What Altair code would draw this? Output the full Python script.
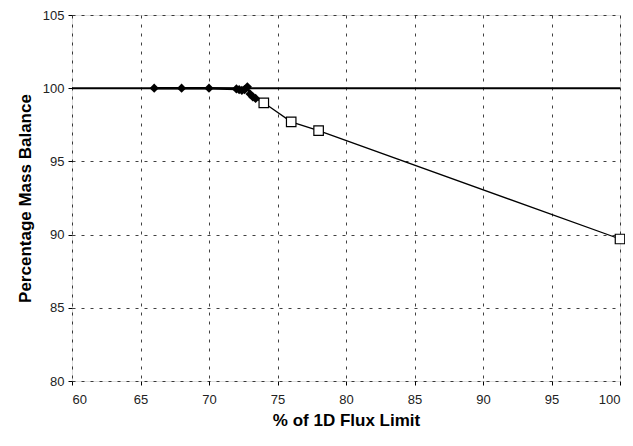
import altair as alt
import pandas as pd

# Filled-diamond series
dia_x = [66, 68, 70, 72.0, 72.2, 72.4, 72.6, 72.8, 73.0, 73.2, 73.4]
dia_y = [100.0, 100.0, 100.0, 99.95, 99.9, 99.85, 99.9, 100.1, 99.6, 99.4, 99.3]

# Open-square series
sq_x = [73.4, 74, 76, 78, 100]
sq_y = [99.3, 99.0, 97.7, 97.1, 89.7]
sq_marker = [False, True, True, True, True]

ref_y = [100]

x_ticks = [60, 65, 70, 75, 80, 85, 90, 95, 100]
y_ticks = [80, 85, 90, 95, 100, 105]

dia = pd.DataFrame({"x": dia_x, "y": dia_y})
sq = pd.DataFrame({"x": sq_x, "y": sq_y, "m": sq_marker})
ref = pd.DataFrame({"y": ref_y})

FONT = "Liberation Sans"

xs = alt.Scale(domain=[60, 100], nice=False, zero=False)
ys = alt.Scale(domain=[80, 105], nice=False, zero=False)

xaxis = alt.Axis(values=x_ticks, title="% of 1D Flux Limit", grid=True,
                 gridDash=[3, 6], gridColor="#000", gridOpacity=0.75, gridWidth=1,
                 domain=False, tickColor="#000", tickSize=4, labelPadding=8,
                 labelFont=FONT, labelFontSize=13, labelColor="#222",
                 titleFont=FONT, titleFontSize=17, titleFontWeight="bold",
                 titlePadding=6, titleColor="#000")
yaxis = alt.Axis(values=y_ticks, title="Percentage Mass Balance", grid=True,
                 gridDash=[3, 6], gridColor="#000", gridOpacity=0.75, gridWidth=1,
                 domain=False, tickColor="#000", tickSize=4, labelPadding=4,
                 labelFont=FONT, labelFontSize=13, labelColor="#222",
                 titleFont=FONT, titleFontSize=17, titleFontWeight="bold",
                 titlePadding=8, titleColor="#000")

base_line = alt.Chart(ref).mark_rule(color="#000", strokeWidth=2).encode(
    y=alt.Y("y:Q", scale=ys, axis=yaxis)
)

sq_line = alt.Chart(sq).mark_line(color="#000", strokeWidth=1.3).encode(
    x=alt.X("x:Q", scale=xs, axis=xaxis),
    y=alt.Y("y:Q", scale=ys, axis=yaxis),
)
sq_pts = alt.Chart(sq).transform_filter("datum.m").mark_point(
    shape="square", size=90, filled=True, fill="white", stroke="#000",
    strokeWidth=1.2, opacity=1
).encode(x=alt.X("x:Q", scale=xs), y=alt.Y("y:Q", scale=ys))

dia_line = alt.Chart(dia).mark_line(color="#000", strokeWidth=2.5).encode(
    x=alt.X("x:Q", scale=xs), y=alt.Y("y:Q", scale=ys)
)
dia_pts = alt.Chart(dia).mark_point(
    shape="diamond", size=85, filled=True, color="#000", opacity=1
).encode(x=alt.X("x:Q", scale=xs), y=alt.Y("y:Q", scale=ys))

chart = alt.layer(base_line, sq_line, dia_line, sq_pts, dia_pts).properties(
    width=548, height=366,
    autosize=alt.AutoSizeParams(type="none"),
    padding={"left": 64, "top": 7, "right": 5, "bottom": 60},
).configure_view(stroke="#000", strokeWidth=2).configure(background="white")

chart.save("out.html", embed_options={"renderer": "svg", "actions": False})
